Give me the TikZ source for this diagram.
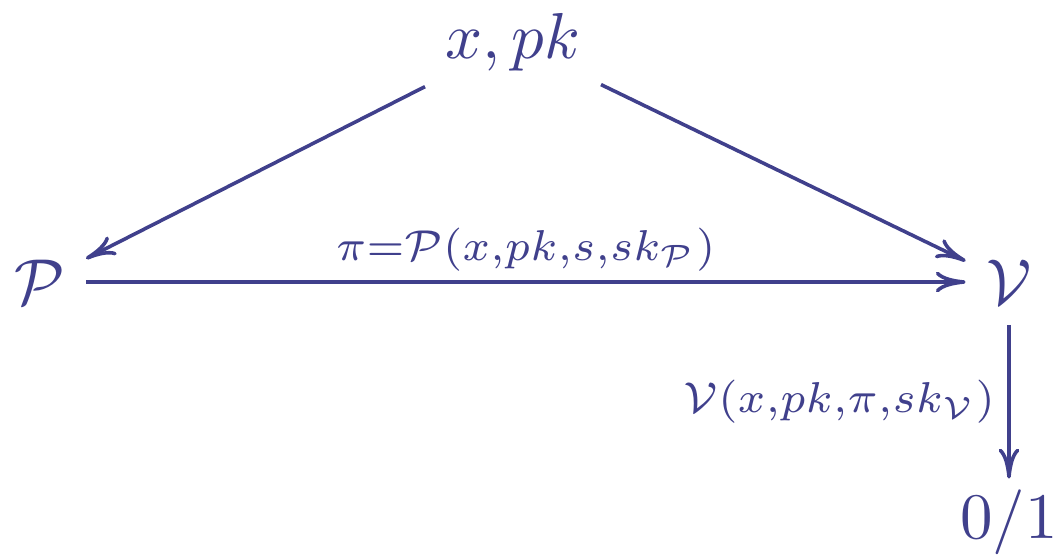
\documentclass[tikz,border=0pt]{standalone}
\usetikzlibrary{arrows.meta}
\definecolor{ink}{RGB}{64,64,140}
\begin{document}
\begin{tikzpicture}[x=0.154pt,y=-0.154pt,
  obj/.style={inner sep=3pt, text=ink},
  lbl/.style={inner sep=1.5pt, text=ink, scale=0.95},
  arr/.style={draw=ink, line width=0.55pt, -{Computer Modern Rightarrow[length=4.6pt,width=3.2pt]}}]
\useasboundingbox (0,0) rectangle (1057,559);
\node[obj] (xpk) at (513,42) {$x, pk$};
\node[obj] (P) at (40,282) {$\mathcal{P}$};
\node[obj] (V) at (1009,282) {$\mathcal{V}$};
\node[obj, inner sep=1.5pt] (out) at (1009,522) {$0/1$};
\draw[arr] (xpk) -- (P);
\draw[arr] (xpk) -- (V);
\draw[arr] (P) -- node[lbl, above] {$\scriptstyle \pi=\mathcal{P}(x,pk,s,sk_{\mathcal{P}})$} (V);
\draw[arr] (V) -- node[lbl, left, inner sep=2pt] {$\scriptstyle \mathcal{V}(x,pk,\pi,sk_{\mathcal{V}})$} (out);
\end{tikzpicture}
\end{document}
